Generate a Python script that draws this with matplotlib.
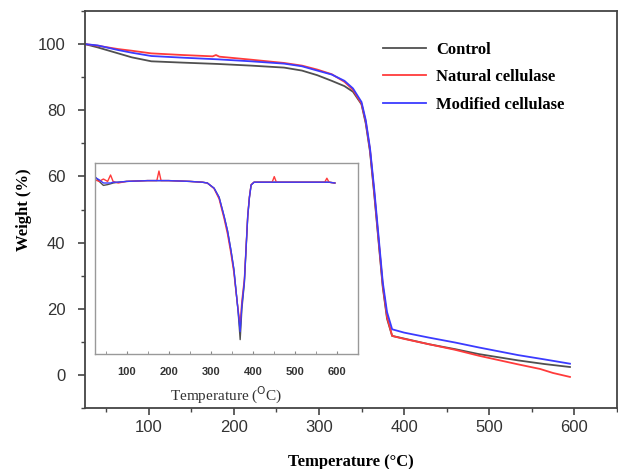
import numpy as np
import matplotlib
matplotlib.use('Agg')
import matplotlib.pyplot as plt
from matplotlib.ticker import MultipleLocator

# TGA curves (weight %)
t_ctrl = [25, 40, 64, 80, 103, 140, 181, 220, 259, 280, 298, 315, 330, 340, 350, 355, 360, 365, 370, 375, 380, 386, 400, 429, 460, 488, 534, 565, 595]
w_ctrl = [100, 99.0, 97.2, 96.0, 94.8, 94.4, 94.0, 93.5, 92.9, 92.0, 90.6, 88.9, 87.3, 85.6, 81.8, 76.0, 67.5, 54.5, 40.5, 26.5, 17.0, 11.8, 11.0, 9.3, 7.8, 6.3, 4.4, 3.3, 2.4]

t_nat = [25, 40, 64, 80, 103, 140, 175, 179, 183, 220, 259, 280, 298, 315, 330, 340, 350, 355, 360, 365, 370, 375, 380, 386, 400, 429, 460, 488, 534, 560, 575, 595]
w_nat = [100, 99.5, 98.5, 98.0, 97.2, 96.7, 96.3, 96.7, 96.2, 95.3, 94.3, 93.5, 92.3, 90.9, 88.6, 86.2, 82.0, 76.5, 68.0, 55.0, 41.0, 27.0, 17.5, 11.8, 10.9, 9.3, 7.6, 5.8, 3.2, 1.8, 0.6, -0.6]

t_mod = [25, 40, 64, 80, 103, 140, 181, 220, 259, 280, 298, 315, 330, 340, 350, 355, 360, 365, 370, 375, 380, 386, 400, 429, 460, 488, 534, 565, 595]
w_mod = [100, 99.6, 98.2, 97.4, 96.4, 95.9, 95.4, 94.8, 94.1, 93.3, 92.0, 90.8, 88.9, 86.6, 82.5, 77.0, 68.5, 56.0, 42.0, 28.0, 19.0, 13.8, 12.8, 11.3, 9.8, 8.3, 6.0, 4.7, 3.4]

# DTG curves for inset
d_t = [25, 35, 45, 55, 62, 68, 80, 100, 150, 172, 177, 182, 200, 250, 280, 292, 308, 320, 332, 340, 348, 355, 360, 365, 370, 374, 380, 384, 388, 392, 396, 403, 446, 451, 456, 500, 550, 571, 576, 581, 595]
d_ctrl = [0.06, 0.0, -0.05, -0.04, -0.03, -0.02, -0.01, 0.0, 0.01, 0.01, 0.01, 0.01, 0.01, 0.0, -0.01, -0.02, -0.085, -0.2, -0.44, -0.62, -0.86, -1.1, -1.36, -1.62, -1.98, -1.6, -1.27, -0.85, -0.44, -0.2, -0.045, -0.01, -0.01, -0.01, -0.01, -0.01, -0.01, -0.01, -0.01, -0.01, -0.02]
d_nat = [0.02, 0.0, 0.03, 0.0, 0.08, 0.0, -0.02, 0.0, 0.01, 0.01, 0.13, 0.01, 0.01, 0.0, -0.01, -0.02, -0.09, -0.22, -0.47, -0.66, -0.9, -1.14, -1.38, -1.6, -1.79, -1.5, -1.22, -0.82, -0.42, -0.19, -0.04, -0.01, -0.01, 0.06, -0.01, -0.01, -0.01, -0.01, 0.04, -0.01, -0.02]
d_mod = [0.05, 0.02, -0.02, -0.02, -0.02, -0.01, -0.01, 0.0, 0.01, 0.01, 0.01, 0.01, 0.01, 0.0, -0.01, -0.02, -0.085, -0.2, -0.44, -0.62, -0.86, -1.1, -1.36, -1.62, -1.88, -1.55, -1.25, -0.84, -0.43, -0.2, -0.045, -0.01, -0.01, -0.01, -0.01, -0.01, -0.01, -0.01, -0.01, -0.01, -0.02]

labels = ['Control', 'Natural cellulase', 'Modified cellulase']
colors = ['#505050', '#ff3b3b', '#3b3bff']

fig = plt.figure(figsize=(6.18, 4.69), dpi=100)
ax = fig.add_axes([0.1375, 0.130, 0.8605, 0.8465])

ax.plot(t_ctrl, w_ctrl, color=colors[0], lw=1.3, label=labels[0])
ax.plot(t_nat, w_nat, color=colors[1], lw=1.3, label=labels[1])
ax.plot(t_mod, w_mod, color=colors[2], lw=1.3, label=labels[2])

ax.set_xlim(25, 650)
ax.set_ylim(-10, 110)
ax.xaxis.set_major_locator(MultipleLocator(100))
ax.xaxis.set_minor_locator(MultipleLocator(50))
ax.yaxis.set_major_locator(MultipleLocator(20))
ax.yaxis.set_minor_locator(MultipleLocator(10))
ax.tick_params(which='both', direction='out', top=False, right=False, color='#444444')
ax.tick_params(which='major', length=5, width=1.2)
ax.tick_params(which='minor', length=3, width=1.0)
ax.tick_params(axis='y', which='major', pad=9)
for lab in ax.get_xticklabels() + ax.get_yticklabels():
    lab.set_fontfamily('Liberation Sans')
    lab.set_fontsize(12)
    lab.set_color('#333333')
for s in ax.spines.values():
    s.set_linewidth(1.3)
    s.set_color('#444444')

ax.set_xlabel('Temperature (°C)', fontfamily='Liberation Serif', fontweight='bold', fontsize=12, labelpad=14)
ax.set_ylabel('Weight (%)', fontfamily='Liberation Serif', fontweight='bold', fontsize=12, labelpad=4)

leg = ax.legend(loc='upper left', bbox_to_anchor=(0.56, 0.922), frameon=False,
                prop={'family': 'Liberation Serif', 'weight': 'bold', 'size': 12},
                handlelength=2.6, handletextpad=0.6, labelspacing=0.68,
                borderpad=0, borderaxespad=0)

# inset DTG
axi = fig.add_axes([0.1537, 0.2452, 0.4256, 0.4072])
axi.plot(d_t, d_ctrl, color=colors[0], lw=1.0)
axi.plot(d_t, d_nat, color=colors[1], lw=1.0)
axi.plot(d_t, d_mod, color=colors[2], lw=1.0)
axi.set_xlim(25, 650)
axi.set_ylim(-2.16, 0.23)
axi.set_yticks([])
axi.xaxis.set_major_locator(MultipleLocator(100))
axi.xaxis.set_minor_locator(MultipleLocator(50))
axi.tick_params(which='both', direction='in', length=2.5, color='#888888', pad=9)
for lab in axi.get_xticklabels():
    lab.set_fontfamily('Liberation Sans')
    lab.set_fontweight('bold')
    lab.set_fontsize(8)
    lab.set_color('#333333')
for s in axi.spines.values():
    s.set_color('#999999')
    s.set_linewidth(1.0)
axi.set_xlabel('Temperature ($^{\\mathrm{O}}$C)', fontfamily='Liberation Serif', fontsize=11, labelpad=6, color='#333333')

fig.savefig('out.png', dpi=100)
